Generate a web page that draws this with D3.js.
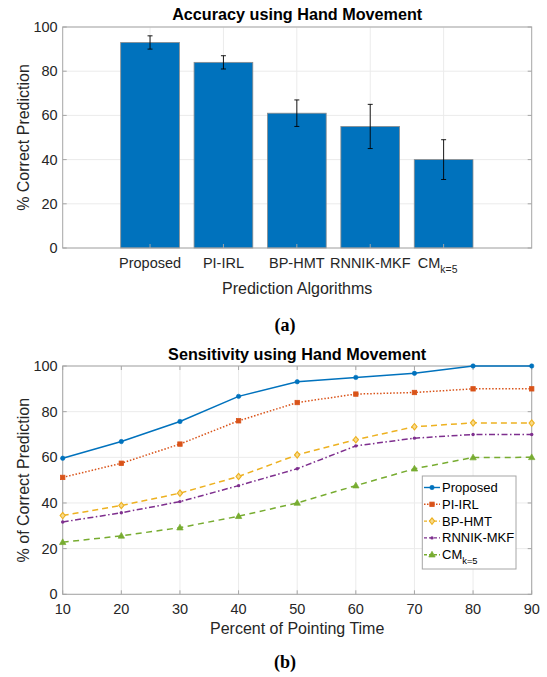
<!DOCTYPE html>
<html><head><meta charset="utf-8">
<script src="https://cdn.jsdelivr.net/npm/d3@7"></script>
<style>body{margin:0;background:#fff}svg{font-family:"Liberation Sans",Arial,sans-serif}</style>
</head><body>
<svg id="c" width="547" height="677"></svg>
<script>
// Chart (a)
const barCategories = ["Proposed","PI-IRL","BP-HMT","RNNIK-MKF","CM"];
const barValues = [93, 84, 61, 55, 40];
const barErrors = [3, 3, 6, 10, 9];
const yTicksA = [0,20,40,60,80,100];
// Chart (b)
const timePoints = [10,20,30,40,50,60,70,80,90];
const seriesNames = ["Proposed","PI-IRL","BP-HMT","RNNIK-MKF","CM"];
const proposed = [59.6,66.9,75.7,86.7,93.1,95,96.8,100,100];
const piIrl = [51.2,57.4,65.8,76,84,87.7,88.4,90,90];
const bpHmt = [34.5,38.9,44.3,51.6,61.1,67.7,73.4,75.1,75];
const rnnik = [31.7,35.7,40.6,47.6,55,65,68.4,70,70];
const cm = [22.8,25.6,29.2,34.2,40,47.6,55,59.9,60];
const yTicksB = [0,20,40,60,80,100];

const svg = d3.select("#c");
const textCol = "#262626", boxCol = "#a6a6a6", gridCol = "#ebebeb";
const tickFS = 14.5, labFS = 16, titleFS = 16.2;

function drawSubscriptLabel(sel, main, sub, fs){
  sel.append("tspan").text(main);
  sel.append("tspan").attr("dy", fs*0.4).attr("font-size", fs*0.72).text(sub);
}

// ---------- Chart A ----------
const L = 62.7, R = 531.7;
const ya = d3.scaleLinear().domain([0,100]).range([248,27]);
const xa = d3.scaleLinear().domain([-0.19,6.2]).range([L,R]);
const gA = svg.append("g");
gA.selectAll(".hg").data(yTicksA).join("line").attr("x1",L).attr("x2",R)
  .attr("y1",d=>ya(d)).attr("y2",d=>ya(d)).attr("stroke",gridCol);
gA.selectAll(".vg").data(barCategories).join("line").attr("x1",(d,i)=>xa(i+1)).attr("x2",(d,i)=>xa(i+1))
  .attr("y1",ya(0)).attr("y2",ya(100)).attr("stroke",gridCol);
const bw = xa(1.8)-xa(1);
gA.selectAll("rect.bar").data(barValues).join("rect").attr("class","bar")
  .attr("x",(d,i)=>xa(i+1)-bw/2).attr("width",bw)
  .attr("y",d=>ya(d)).attr("height",d=>ya(0)-ya(d))
  .attr("fill","#0072BD").attr("stroke","#8c8c8c").attr("stroke-width",0.8);
barValues.forEach((v,i)=>{
  const cx = xa(i+1), e = barErrors[i];
  gA.append("line").attr("x1",cx).attr("x2",cx).attr("y1",ya(v+e)).attr("y2",ya(v-e)).attr("stroke","#000").attr("stroke-width",0.9);
  [v+e,v-e].forEach(t=>gA.append("line").attr("x1",cx-2.5).attr("x2",cx+2.5).attr("y1",ya(t)).attr("y2",ya(t)).attr("stroke","#000").attr("stroke-width",0.9));
});
gA.append("rect").attr("x",L).attr("y",ya(100)).attr("width",R-L).attr("height",ya(0)-ya(100))
  .attr("fill","none").attr("stroke",boxCol);
yTicksA.forEach(t=>{
  gA.append("line").attr("x1",L).attr("x2",L+4).attr("y1",ya(t)).attr("y2",ya(t)).attr("stroke",boxCol);
  gA.append("line").attr("x1",R).attr("x2",R-4).attr("y1",ya(t)).attr("y2",ya(t)).attr("stroke",boxCol);
  gA.append("text").attr("x",L-5).attr("y",ya(t)+5).attr("text-anchor","end").attr("font-size",tickFS).attr("fill",textCol).text(t);
});
barCategories.forEach((c,i)=>{
  gA.append("line").attr("x1",xa(i+1)).attr("x2",xa(i+1)).attr("y1",ya(0)).attr("y2",ya(0)-4).attr("stroke",boxCol);
  const t = gA.append("text").attr("x",xa(i+1)).attr("y",267.5).attr("text-anchor","middle").attr("font-size",tickFS).attr("fill",textCol);
  if(c==="CM"){ t.attr("x",xa(i+1)-6); drawSubscriptLabel(t,"CM","k=5",tickFS);} else t.text(c);
});
gA.append("text").attr("x",(L+R)/2).attr("y",20).attr("text-anchor","middle").attr("font-size",titleFS).attr("font-weight","bold").attr("fill","#000").text("Accuracy using Hand Movement");
gA.append("text").attr("x",(L+R)/2).attr("y",294).attr("text-anchor","middle").attr("font-size",labFS).attr("fill",textCol).text("Prediction Algorithms");
gA.append("text").attr("transform",`translate(29,${(ya(0)+ya(100))/2}) rotate(-90)`).attr("text-anchor","middle").attr("font-size",labFS).attr("fill",textCol).text("% Correct Prediction");
svg.append("text").attr("x",285).attr("y",331).attr("text-anchor","middle").attr("font-family","'Liberation Serif','DejaVu Serif',serif").attr("font-weight","bold").attr("font-size",18).text("(a)");

// ---------- Chart B ----------
const yb = d3.scaleLinear().domain([0,100]).range([594.3,366]);
const xb = d3.scaleLinear().domain([10,90]).range([L,R]);
const gB = svg.append("g");
gB.selectAll(".hg").data(yTicksB).join("line").attr("x1",L).attr("x2",R)
  .attr("y1",d=>yb(d)).attr("y2",d=>yb(d)).attr("stroke",gridCol);
gB.selectAll(".vg").data(timePoints).join("line").attr("x1",d=>xb(d)).attr("x2",d=>xb(d))
  .attr("y1",yb(0)).attr("y2",yb(100)).attr("stroke",gridCol);
gB.append("rect").attr("x",L).attr("y",yb(100)).attr("width",R-L).attr("height",yb(0)-yb(100))
  .attr("fill","none").attr("stroke",boxCol);
yTicksB.forEach(t=>{
  gB.append("line").attr("x1",L).attr("x2",L+4).attr("y1",yb(t)).attr("y2",yb(t)).attr("stroke",boxCol);
  gB.append("line").attr("x1",R).attr("x2",R-4).attr("y1",yb(t)).attr("y2",yb(t)).attr("stroke",boxCol);
  gB.append("text").attr("x",L-5).attr("y",yb(t)+5).attr("text-anchor","end").attr("font-size",tickFS).attr("fill",textCol).text(t);
});
timePoints.forEach(t=>{
  gB.append("line").attr("x1",xb(t)).attr("x2",xb(t)).attr("y1",yb(0)).attr("y2",yb(0)-4).attr("stroke",boxCol);
  gB.append("line").attr("x1",xb(t)).attr("x2",xb(t)).attr("y1",yb(100)).attr("y2",yb(100)+4).attr("stroke",boxCol);
  gB.append("text").attr("x",xb(t)).attr("y",614).attr("text-anchor","middle").attr("font-size",tickFS).attr("fill",textCol).text(t);
});
const series = [
  {name:"Proposed", vals:proposed, color:"#0072BD", dash:null, marker:"circle"},
  {name:"PI-IRL", vals:piIrl, color:"#D95319", dash:"1.5,1.8", marker:"square"},
  {name:"BP-HMT", vals:bpHmt, color:"#EDB120", dash:"6,4", marker:"diamond"},
  {name:"RNNIK-MKF", vals:rnnik, color:"#7E2F8E", dash:"6,2.5,1.5,2.5", marker:"dot"},
  {name:"CM", vals:cm, color:"#77AC30", dash:"6,4.5", marker:"triangle"}
];
function drawMarker(g, type, x, y, color){
  if(type==="circle") g.append("circle").attr("cx",x).attr("cy",y).attr("r",2.2).attr("fill",color).attr("stroke",color).attr("stroke-width",0.6);
  else if(type==="square") g.append("rect").attr("x",x-2.2).attr("y",y-2.2).attr("width",4.4).attr("height",4.4).attr("fill",color).attr("stroke",color).attr("stroke-width",0.8);
  else if(type==="diamond") g.append("path").attr("d",`M${x},${y-3.2}L${x+2.6},${y}L${x},${y+3.2}L${x-2.6},${y}Z`).attr("fill","#f7d98a").attr("stroke",color).attr("stroke-width",1.1);
  else if(type==="dot") g.append("circle").attr("cx",x).attr("cy",y).attr("r",1.7).attr("fill",color);
  else if(type==="triangle") g.append("path").attr("d",`M${x},${y-3.4}L${x+3.2},${y+2.3}L${x-3.2},${y+2.3}Z`).attr("fill",color).attr("stroke",color).attr("stroke-width",0.7);
}
const line = d3.line().x((d,i)=>xb(timePoints[i])).y(d=>yb(d));
series.forEach(s=>{
  gB.append("path").attr("d",line(s.vals)).attr("fill","none").attr("stroke",s.color).attr("stroke-width",1.5)
    .attr("stroke-dasharray",s.dash);
  s.vals.forEach((v,i)=>drawMarker(gB,s.marker,xb(timePoints[i]),yb(v),s.color));
});
// legend
const lg = gB.append("g");
lg.append("rect").attr("x",422.3).attr("y",476).attr("width",93.7).attr("height",93).attr("fill","#fff").attr("stroke",boxCol);
series.forEach((s,i)=>{
  const y = 487.5 + i*16.8;
  lg.append("line").attr("x1",424).attr("x2",440).attr("y1",y).attr("y2",y).attr("stroke",s.color).attr("stroke-width",1.4)
    .attr("stroke-dasharray", s.dash ? (s.marker==="square"?"1.5,1.5":"3,2") : null);
  drawMarker(lg,s.marker,432,y,s.color);
  const t = lg.append("text").attr("x",442).attr("y",y+4.5).attr("font-size",13).attr("fill","#000");
  if(s.name==="CM") drawSubscriptLabel(t,"CM","k=5",13); else t.text(s.name);
});
gB.append("text").attr("x",(L+R)/2).attr("y",360).attr("text-anchor","middle").attr("font-size",titleFS).attr("font-weight","bold").attr("fill","#000").text("Sensitivity using Hand Movement");
gB.append("text").attr("x",(L+R)/2).attr("y",634).attr("text-anchor","middle").attr("font-size",labFS).attr("fill",textCol).text("Percent of Pointing Time");
gB.append("text").attr("transform",`translate(29,${(yb(0)+yb(100))/2}) rotate(-90)`).attr("text-anchor","middle").attr("font-size",labFS).attr("fill",textCol).text("% of Correct Prediction");
svg.append("text").attr("x",285).attr("y",668).attr("text-anchor","middle").attr("font-family","'Liberation Serif','DejaVu Serif',serif").attr("font-weight","bold").attr("font-size",18).text("(b)");
</script>
</body></html>
